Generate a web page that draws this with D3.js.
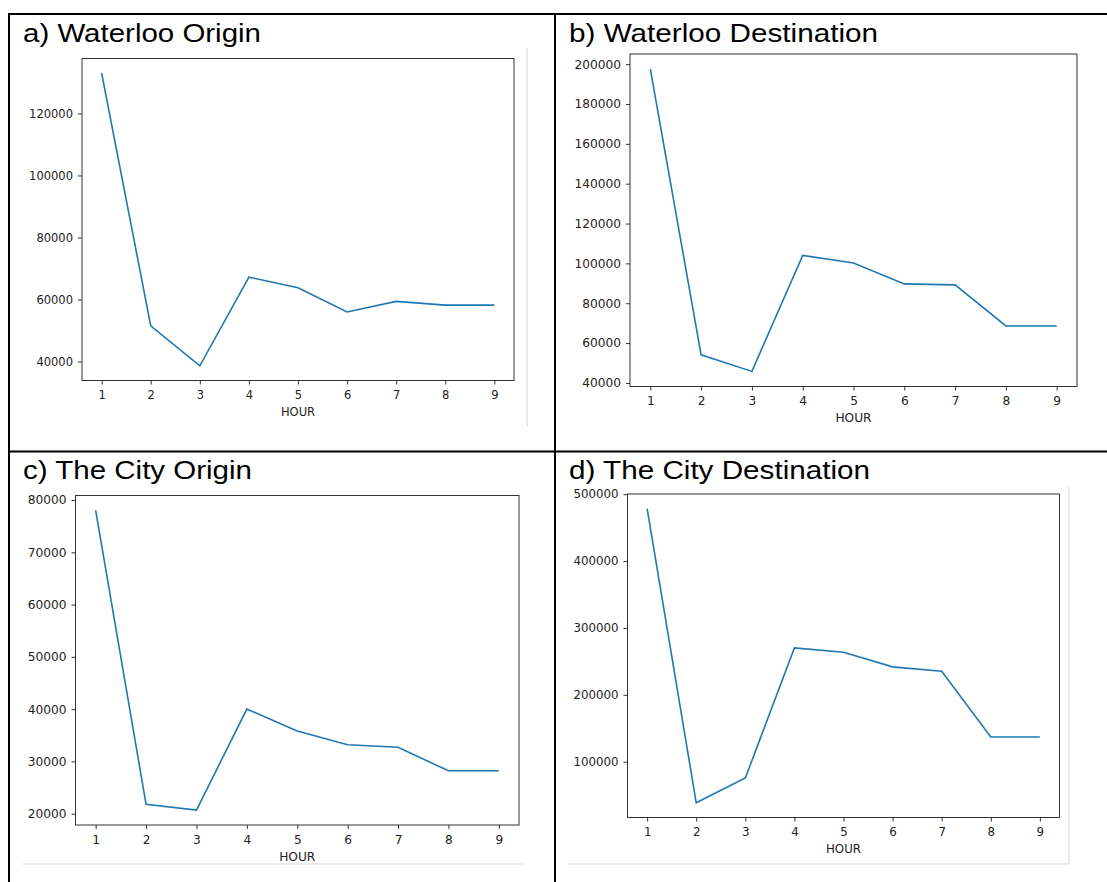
<!DOCTYPE html>
<html lang='en'>
	<head>
		<meta charset='utf-8'>
		<title>Hourly trips</title>
		<script src="https://cdn.jsdelivr.net/npm/d3@7"></script>
		<style type="text/css">
			body { margin: 0; background: #fff; }
			.tick text { font-family: "DejaVu Sans", sans-serif; fill: #222; }
			.tick line { stroke: #333; }
		</style>
	</head>
	<body>
		<script type='text/javascript'>
			//Data
			var hours = [1, 2, 3, 4, 5, 6, 7, 8, 9];
			var waterlooOrigin = [133000, 51500, 38600, 67200, 63800, 56000, 59400, 58200, 58200];
			var waterlooDest = [197500, 54100, 45800, 104000, 100200, 89700, 89200, 68600, 68600];
			var cityOrigin = [78000, 21800, 20700, 40000, 35800, 33200, 32700, 28200, 28200];
			var cityDest = [478300, 38600, 75600, 270200, 263600, 241800, 235200, 137000, 137000];

			var ticksA = [40000, 60000, 80000, 100000, 120000];
			var ticksB = [40000, 60000, 80000, 100000, 120000, 140000, 160000, 180000, 200000];
			var ticksC = [20000, 30000, 40000, 50000, 60000, 70000, 80000];
			var ticksD = [100000, 200000, 300000, 400000, 500000];

			var titles = ["a) Waterloo Origin", "b) Waterloo Destination", "c) The City Origin", "d) The City Destination"];
			var xLabel = "HOUR";

			//Width and height
			var w = 1107;
			var h = 882;

			//Panel layout (frame box, title position, font size)
			var panels = [
				{ values: waterlooOrigin, ticks: ticksA, title: titles[0], left: 82, right: 514, top: 58.5, bottom: 380.5, tx: 23, ty: 42.3, tw: 238, fs: 11.5 },
				{ values: waterlooDest, ticks: ticksB, title: titles[1], left: 630, right: 1077, top: 54, bottom: 386.5, tx: 569, ty: 42.3, tw: 309, fs: 12.2 },
				{ values: cityOrigin, ticks: ticksC, title: titles[2], left: 75.5, right: 519, top: 495.5, bottom: 825, tx: 23, ty: 479, tw: 229, fs: 12.2 },
				{ values: cityDest, ticks: ticksD, title: titles[3], left: 627.5, right: 1059.5, top: 494, bottom: 817.5, tx: 569, ty: 478.5, tw: 301, fs: 11.8 }
			];

			var fmt = d3.format("d");

			//Create SVG element
			var svg = d3.select("body")
						.append("svg")
						.attr("width", w)
						.attr("height", h);

			//Faint edges of the pasted screenshots
			var faint = svg.append("g").attr("stroke", "#e4e4e4").attr("stroke-width", 1.5);
			faint.append("line").attr("x1", 527).attr("x2", 527).attr("y1", 48).attr("y2", 427);
			faint.append("line").attr("x1", 23).attr("x2", 523).attr("y1", 864).attr("y2", 864);
			faint.append("line").attr("x1", 1069).attr("x2", 1069).attr("y1", 487).attr("y2", 864);
			faint.append("line").attr("x1", 568).attr("x2", 1069).attr("y1", 864).attr("y2", 864);

			//Draw each panel
			panels.forEach(function(p) {
				var g = svg.append("g");

				var x = d3.scaleLinear()
						  .domain([0.6, 9.4])
						  .range([p.left, p.right]);

				var ext = d3.extent(p.values);
				var pad = (ext[1] - ext[0]) * 0.05;
				var y = d3.scaleLinear()
						  .domain([ext[0] - pad, ext[1] + pad])
						  .range([p.bottom, p.top]);

				//x axis
				var xa = g.append("g")
						  .attr("transform", "translate(0," + p.bottom + ")")
						  .call(d3.axisBottom(x).tickValues(hours).tickFormat(fmt).tickSize(4).tickPadding(6).tickSizeOuter(0));
				xa.select(".domain").remove();
				xa.selectAll("text").style("font-size", p.fs + "px");

				//y axis
				var ya = g.append("g")
						  .attr("transform", "translate(" + p.left + ",0)")
						  .call(d3.axisLeft(y).tickValues(p.ticks).tickFormat(fmt).tickSize(4).tickPadding(5).tickSizeOuter(0));
				ya.select(".domain").remove();
				ya.selectAll("text").style("font-size", p.fs + "px");

				//Frame
				g.append("rect")
				 .attr("x", p.left)
				 .attr("y", p.top)
				 .attr("width", p.right - p.left)
				 .attr("height", p.bottom - p.top)
				 .attr("fill", "none")
				 .attr("stroke", "#333")
				 .attr("stroke-width", 1);

				//Line
				var line = d3.line()
							 .x(function(d, i) { return x(hours[i]); })
							 .y(function(d) { return y(d); });
				g.append("path")
				 .datum(p.values)
				 .attr("d", line)
				 .attr("fill", "none")
				 .attr("stroke", "#1f77b4")
				 .attr("stroke-width", 1.6);

				//Axis label
				g.append("text")
				 .attr("x", (p.left + p.right) / 2)
				 .attr("y", p.bottom + 35.5)
				 .attr("text-anchor", "middle")
				 .attr("font-family", "DejaVu Sans, sans-serif")
				 .attr("font-size", p.fs + "px")
				 .attr("fill", "#222")
				 .text(xLabel);

				//Title
				g.append("text")
				 .attr("x", p.tx)
				 .attr("y", p.ty)
				 .attr("font-family", "Liberation Sans, Arial, sans-serif")
				 .attr("font-size", "26.5px")
				 .attr("textLength", p.tw)
				 .attr("lengthAdjust", "spacingAndGlyphs")
				 .attr("fill", "#000")
				 .text(p.title);
			});

			//Table borders
			var borders = svg.append("g").attr("stroke", "#000").attr("stroke-width", 2);
			borders.append("line").attr("x1", 8).attr("x2", w).attr("y1", 14).attr("y2", 14);
			borders.append("line").attr("x1", 9).attr("x2", 9).attr("y1", 13).attr("y2", h);
			borders.append("line").attr("x1", 555).attr("x2", 555).attr("y1", 13).attr("y2", h);
			borders.append("line").attr("x1", 8).attr("x2", w).attr("y1", 451.5).attr("y2", 451.5);
		</script>
	</body>
</html>
